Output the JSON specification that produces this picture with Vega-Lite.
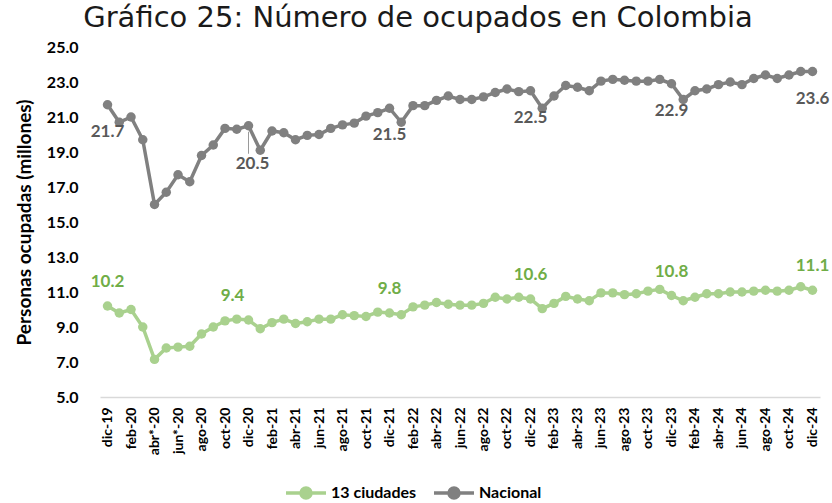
{
  "$schema": "https://vega.github.io/schema/vega-lite/v6.json",
  "width": 720,
  "height": 350,
  "autosize": {"type": "none"},
  "padding": {"left": 100, "top": 47, "right": 12, "bottom": 106},
  "background": "white",
  "config": {"view": {"stroke": null}, "font": "Lato"},
  "title": {
    "text": "Gráfico 25: Número de ocupados en Colombia",
    "font": "DejaVu Sans",
    "fontSize": 29,
    "fontWeight": "normal",
    "color": "#1a1a1a",
    "anchor": "middle",
    "frame": "group",
    "dx": -42,
    "offset": 6
  },
  "data": {
    "values": [
      {"mes":"dic-19","serie":"Nacional","valor":21.7},{"mes":"ene-20","serie":"Nacional","valor":20.7},{"mes":"feb-20","serie":"Nacional","valor":21.0},{"mes":"mar-20","serie":"Nacional","valor":19.7},{"mes":"abr*-20","serie":"Nacional","valor":16.0},{"mes":"may-20","serie":"Nacional","valor":16.7},{"mes":"jun*-20","serie":"Nacional","valor":17.7},{"mes":"jul-20","serie":"Nacional","valor":17.3},{"mes":"ago-20","serie":"Nacional","valor":18.8},{"mes":"sep-20","serie":"Nacional","valor":19.4},{"mes":"oct-20","serie":"Nacional","valor":20.35},{"mes":"nov-20","serie":"Nacional","valor":20.3},{"mes":"dic-20","serie":"Nacional","valor":20.5},
      {"mes":"ene-21","serie":"Nacional","valor":19.1},{"mes":"feb-21","serie":"Nacional","valor":20.2},{"mes":"mar-21","serie":"Nacional","valor":20.1},{"mes":"abr-21","serie":"Nacional","valor":19.7},{"mes":"may-21","serie":"Nacional","valor":19.95},{"mes":"jun-21","serie":"Nacional","valor":20.0},{"mes":"jul-21","serie":"Nacional","valor":20.35},{"mes":"ago-21","serie":"Nacional","valor":20.55},{"mes":"sep-21","serie":"Nacional","valor":20.65},{"mes":"oct-21","serie":"Nacional","valor":21.05},{"mes":"nov-21","serie":"Nacional","valor":21.25},{"mes":"dic-21","serie":"Nacional","valor":21.5},
      {"mes":"ene-22","serie":"Nacional","valor":20.7},{"mes":"feb-22","serie":"Nacional","valor":21.65},{"mes":"mar-22","serie":"Nacional","valor":21.65},{"mes":"abr-22","serie":"Nacional","valor":21.95},{"mes":"may-22","serie":"Nacional","valor":22.2},{"mes":"jun-22","serie":"Nacional","valor":22.0},{"mes":"jul-22","serie":"Nacional","valor":22.0},{"mes":"ago-22","serie":"Nacional","valor":22.15},{"mes":"sep-22","serie":"Nacional","valor":22.4},{"mes":"oct-22","serie":"Nacional","valor":22.6},{"mes":"nov-22","serie":"Nacional","valor":22.45},{"mes":"dic-22","serie":"Nacional","valor":22.5},
      {"mes":"ene-23","serie":"Nacional","valor":21.5},{"mes":"feb-23","serie":"Nacional","valor":22.2},{"mes":"mar-23","serie":"Nacional","valor":22.8},{"mes":"abr-23","serie":"Nacional","valor":22.7},{"mes":"may-23","serie":"Nacional","valor":22.5},{"mes":"jun-23","serie":"Nacional","valor":23.05},{"mes":"jul-23","serie":"Nacional","valor":23.15},{"mes":"ago-23","serie":"Nacional","valor":23.1},{"mes":"sep-23","serie":"Nacional","valor":23.05},{"mes":"oct-23","serie":"Nacional","valor":23.05},{"mes":"nov-23","serie":"Nacional","valor":23.15},{"mes":"dic-23","serie":"Nacional","valor":22.9},
      {"mes":"ene-24","serie":"Nacional","valor":22.0},{"mes":"feb-24","serie":"Nacional","valor":22.5},{"mes":"mar-24","serie":"Nacional","valor":22.6},{"mes":"abr-24","serie":"Nacional","valor":22.85},{"mes":"may-24","serie":"Nacional","valor":23.0},{"mes":"jun-24","serie":"Nacional","valor":22.85},{"mes":"jul-24","serie":"Nacional","valor":23.2},{"mes":"ago-24","serie":"Nacional","valor":23.4},{"mes":"sep-24","serie":"Nacional","valor":23.2},{"mes":"oct-24","serie":"Nacional","valor":23.4},{"mes":"nov-24","serie":"Nacional","valor":23.6},{"mes":"dic-24","serie":"Nacional","valor":23.6},
      {"mes":"dic-19","serie":"13 ciudades","valor":10.2},{"mes":"ene-20","serie":"13 ciudades","valor":9.8},{"mes":"feb-20","serie":"13 ciudades","valor":10.0},{"mes":"mar-20","serie":"13 ciudades","valor":9.0},{"mes":"abr*-20","serie":"13 ciudades","valor":7.15},{"mes":"may-20","serie":"13 ciudades","valor":7.8},{"mes":"jun*-20","serie":"13 ciudades","valor":7.85},{"mes":"jul-20","serie":"13 ciudades","valor":7.9},{"mes":"ago-20","serie":"13 ciudades","valor":8.6},{"mes":"sep-20","serie":"13 ciudades","valor":9.0},{"mes":"oct-20","serie":"13 ciudades","valor":9.35},{"mes":"nov-20","serie":"13 ciudades","valor":9.45},{"mes":"dic-20","serie":"13 ciudades","valor":9.4},
      {"mes":"ene-21","serie":"13 ciudades","valor":8.9},{"mes":"feb-21","serie":"13 ciudades","valor":9.25},{"mes":"mar-21","serie":"13 ciudades","valor":9.45},{"mes":"abr-21","serie":"13 ciudades","valor":9.2},{"mes":"may-21","serie":"13 ciudades","valor":9.3},{"mes":"jun-21","serie":"13 ciudades","valor":9.45},{"mes":"jul-21","serie":"13 ciudades","valor":9.45},{"mes":"ago-21","serie":"13 ciudades","valor":9.7},{"mes":"sep-21","serie":"13 ciudades","valor":9.65},{"mes":"oct-21","serie":"13 ciudades","valor":9.6},{"mes":"nov-21","serie":"13 ciudades","valor":9.85},{"mes":"dic-21","serie":"13 ciudades","valor":9.8},
      {"mes":"ene-22","serie":"13 ciudades","valor":9.7},{"mes":"feb-22","serie":"13 ciudades","valor":10.15},{"mes":"mar-22","serie":"13 ciudades","valor":10.25},{"mes":"abr-22","serie":"13 ciudades","valor":10.4},{"mes":"may-22","serie":"13 ciudades","valor":10.3},{"mes":"jun-22","serie":"13 ciudades","valor":10.25},{"mes":"jul-22","serie":"13 ciudades","valor":10.25},{"mes":"ago-22","serie":"13 ciudades","valor":10.35},{"mes":"sep-22","serie":"13 ciudades","valor":10.7},{"mes":"oct-22","serie":"13 ciudades","valor":10.6},{"mes":"nov-22","serie":"13 ciudades","valor":10.7},{"mes":"dic-22","serie":"13 ciudades","valor":10.6},
      {"mes":"ene-23","serie":"13 ciudades","valor":10.05},{"mes":"feb-23","serie":"13 ciudades","valor":10.35},{"mes":"mar-23","serie":"13 ciudades","valor":10.75},{"mes":"abr-23","serie":"13 ciudades","valor":10.6},{"mes":"may-23","serie":"13 ciudades","valor":10.5},{"mes":"jun-23","serie":"13 ciudades","valor":10.95},{"mes":"jul-23","serie":"13 ciudades","valor":10.95},{"mes":"ago-23","serie":"13 ciudades","valor":10.85},{"mes":"sep-23","serie":"13 ciudades","valor":10.9},{"mes":"oct-23","serie":"13 ciudades","valor":11.05},{"mes":"nov-23","serie":"13 ciudades","valor":11.15},{"mes":"dic-23","serie":"13 ciudades","valor":10.8},
      {"mes":"ene-24","serie":"13 ciudades","valor":10.5},{"mes":"feb-24","serie":"13 ciudades","valor":10.7},{"mes":"mar-24","serie":"13 ciudades","valor":10.9},{"mes":"abr-24","serie":"13 ciudades","valor":10.9},{"mes":"may-24","serie":"13 ciudades","valor":11.0},{"mes":"jun-24","serie":"13 ciudades","valor":11.0},{"mes":"jul-24","serie":"13 ciudades","valor":11.05},{"mes":"ago-24","serie":"13 ciudades","valor":11.1},{"mes":"sep-24","serie":"13 ciudades","valor":11.05},{"mes":"oct-24","serie":"13 ciudades","valor":11.1},{"mes":"nov-24","serie":"13 ciudades","valor":11.3},{"mes":"dic-24","serie":"13 ciudades","valor":11.1}
    ]
  },
  "encoding": {
    "x": {
      "field": "mes",
      "type": "ordinal",
      "sort": null,
      "scale": {"type": "point", "padding": 0.64},
      "axis": {
        "title": null,
        "values": ["dic-19","feb-20","abr*-20","jun*-20","ago-20","oct-20","dic-20","feb-21","abr-21","jun-21","ago-21","oct-21","dic-21","feb-22","abr-22","jun-22","ago-22","oct-22","dic-22","feb-23","abr-23","jun-23","ago-23","oct-23","dic-23","feb-24","abr-24","jun-24","ago-24","oct-24","dic-24"],
        "labelAngle": 270,
        "labelFont": "Lato",
        "labelFontWeight": "bold",
        "labelFontSize": 14,
        "labelColor": "#000000",
        "labelPadding": 10,
        "ticks": false,
        "domainColor": "#D9D9D9",
        "domainWidth": 1.5,
        "grid": false
      }
    },
    "y": {
      "field": "valor",
      "type": "quantitative",
      "scale": {"domain": [5, 25], "nice": false, "zero": false},
      "axis": {
        "title": "Personas ocupadas (millones)",
        "titleFont": "Lato",
        "titleFontSize": 19,
        "titleFontWeight": "bold",
        "titleColor": "#000000",
        "titlePadding": 12,
        "values": [5, 7, 9, 11, 13, 15, 17, 19, 21, 23, 25],
        "format": ".1f",
        "labelFont": "Lato",
        "labelFontWeight": "bold",
        "labelFontSize": 16,
        "labelColor": "#000000",
        "labelPadding": 22,
        "ticks": false,
        "domain": false,
        "grid": false
      }
    }
  },
  "layer": [
    {
      "mark": {"type": "line", "strokeWidth": 3.5},
      "encoding": {
        "color": {
          "field": "serie",
          "type": "nominal",
          "scale": {"domain": ["13 ciudades", "Nacional"], "range": ["#A9D18E", "#808080"]},
          "legend": {
            "title": null,
            "orient": "none",
            "legendX": 184,
            "legendY": 424,
            "direction": "horizontal",
            "labelFont": "Lato",
            "labelFontSize": 16,
            "labelFontWeight": "bold",
            "labelColor": "#000000",
            "labelOffset": 3,
            "symbolType": "M -1 0 L 1 0 M 0.25 0 A 0.25 0.25 0 1 1 -0.25 0 A 0.25 0.25 0 1 1 0.25 0",
            "symbolSize": 1600,
            "symbolStrokeWidth": 3.5,
            "columnPadding": 10
          }
        }
      }
    },
    {
      "mark": {"type": "point", "filled": true, "size": 90, "opacity": 1},
      "encoding": {
        "color": {"field": "serie", "type": "nominal"}
      }
    },
    {
      "transform": [
        {"filter": "datum.serie === 'Nacional' && datum.mes === 'dic-20'"}
      ],
      "mark": {"type": "rule", "color": "#808080", "strokeWidth": 0.8, "yOffset": 6, "y2Offset": 28},
      "encoding": {
        "y2": {"field": "valor"}
      }
    },
    {
      "transform": [
        {"filter": "datum.serie === 'Nacional' && indexof(['dic-19','dic-20','dic-21','dic-22','dic-23','dic-24'], datum.mes) >= 0"}
      ],
      "mark": {"type": "text", "font": "Lato", "fontSize": 17, "fontWeight": "bold", "baseline": "middle", "color": "#595959",
               "dy": {"expr": "datum.mes === 'dic-20' ? 38 : 27"}, "dx": {"expr": "datum.mes === 'dic-20' ? 4 : 0"}},
      "encoding": {
        "text": {"field": "valor", "type": "quantitative", "format": ".1f"}
      }
    },
    {
      "transform": [
        {"filter": "datum.serie === '13 ciudades' && indexof(['dic-19','dic-20','dic-21','dic-22','dic-23','dic-24'], datum.mes) >= 0"}
      ],
      "mark": {"type": "text", "font": "Lato", "fontSize": 17, "fontWeight": "bold", "baseline": "middle", "color": "#70AD47",
               "dy": -24, "dx": {"expr": "datum.mes === 'dic-20' ? -16 : 0"}},
      "encoding": {
        "text": {"field": "valor", "type": "quantitative", "format": ".1f"}
      }
    }
  ]
}
